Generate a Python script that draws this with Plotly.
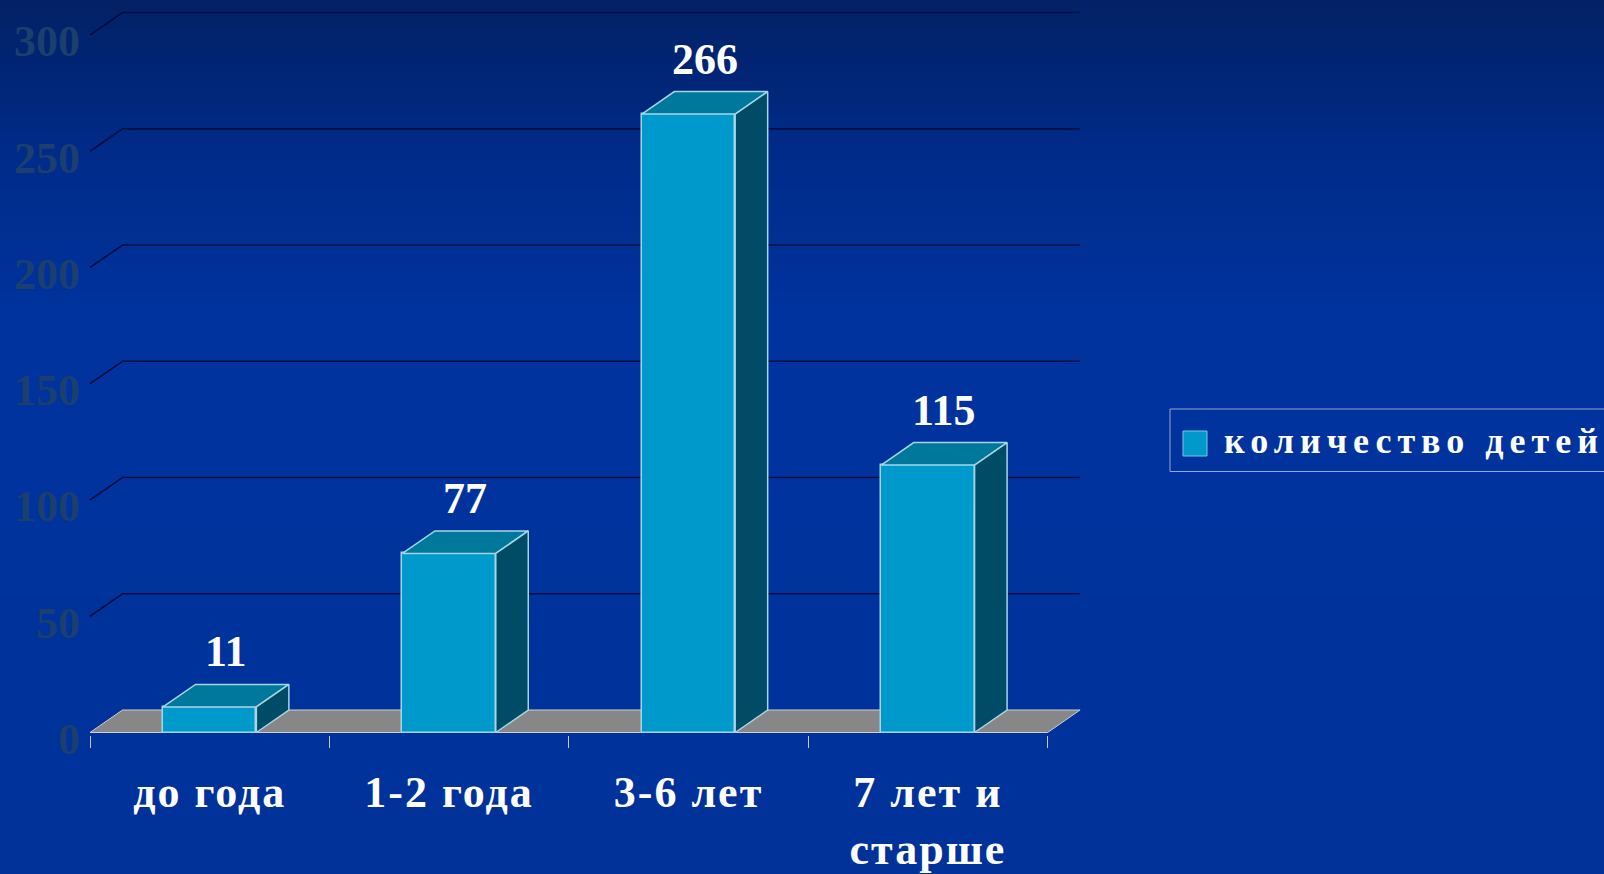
import plotly.graph_objects as go

# ---------------- data ----------------
categories = ["до года", "1-2 года", "3-6 лет", "7 лет и<br>старше"]
values = [11, 77, 266, 115]
y_ticks = [0, 50, 100, 150, 200, 250, 300]
series_name = "количество детей"

# ---------------- geometry / style ----------------
W, H = 1604, 874
X0 = 88.0          # px where plot area starts (left)
XFRONT = 90.0      # px of category 0 boundary (front)
CAT_PX = 239.4     # px per category
XR = 1100.0        # px right end of plot area
Y0 = 732.5         # px of value 0 (front plane)
YB = 734.5         # px bottom of plot area
PX_PER_UNIT = 2.325
DX_PX, DY_PX = 32.5, 22.5
BAR_FRAC = 0.39

DX = DX_PX / CAT_PX
DY = DY_PX / PX_PER_UNIT
x_lo = -(XFRONT - X0) / CAT_PX
x_hi = (XR - XFRONT) / CAT_PX
y_lo = -(YB - Y0) / PX_PER_UNIT
y_hi = Y0 / PX_PER_UNIT

FONT = "Liberation Serif, Times New Roman, serif"
FRONT_C = "#0099cc"
TOP_C = "#00789c"
SIDE_C = "#004c66"
EDGE_C = "#a6d6e6"
GRID_C = "#000c40"

n = len(categories)
centers = [i + 0.5 for i in range(n)]
hw = BAR_FRAC / 2

fig = go.Figure()

# front faces (bars)
fig.add_trace(go.Bar(
    x=centers, y=values, width=BAR_FRAC, name=series_name,
    marker=dict(color=FRONT_C, line=dict(color=EDGE_C, width=1.5)),
    showlegend=False, hoverinfo="skip",
))

# top faces and side faces
tx, ty, sx, sy = [], [], [], []
for c, v in zip(centers, values):
    tx += [c - hw, c + hw, c + hw + DX, c - hw + DX, c - hw, None]
    ty += [v, v, v + DY, v + DY, v, None]
    sx += [c + hw, c + hw, c + hw + DX, c + hw + DX, c + hw, None]
    sy += [0, v, v + DY, DY, 0, None]
fig.add_trace(go.Scatter(x=tx, y=ty, mode="lines", fill="toself", fillcolor=TOP_C,
                         line=dict(color=EDGE_C, width=1.5), showlegend=False, hoverinfo="skip"))
fig.add_trace(go.Scatter(x=sx, y=sy, mode="lines", fill="toself", fillcolor=SIDE_C,
                         line=dict(color=EDGE_C, width=1.5), showlegend=False, hoverinfo="skip"))

shapes = []
# background gradient (figure-wide)
def lerp(a, b, t):
    return tuple(round(a[i] + (b[i] - a[i]) * t) for i in range(3))
stops = [(0, (2, 32, 100)), (160, (0, 44, 138)), (320, (0, 51, 158)), (874, (0, 50, 154))]
nb = 60
for k in range(nb):
    p0 = H * k / nb
    p1 = H * (k + 1) / nb
    pm = (p0 + p1) / 2
    for j in range(len(stops) - 1):
        if stops[j][0] <= pm <= stops[j + 1][0]:
            t = (pm - stops[j][0]) / (stops[j + 1][0] - stops[j][0])
            col = lerp(stops[j][1], stops[j + 1][1], t)
            break
    shapes.append(dict(type="rect", xref="paper", yref="paper", x0=0, x1=1,
                       y0=1 - p1 / H, y1=1 - p0 / H + 0.0005, layer="below",
                       fillcolor="rgb(%d,%d,%d)" % col, line=dict(width=0)))

# floor
shapes.append(dict(type="path", xref="x", yref="y", layer="below",
                   path="M 0,0 L %f,0 L %f,%f L %f,%f Z" % (n, n + DX, DY, DX, DY),
                   fillcolor="#878787", line=dict(color="#cfcfcf", width=1)))
# gridlines (back wall + left wall diagonals)
for v in y_ticks[1:]:
    shapes.append(dict(type="path", xref="x", yref="y", layer="below",
                       path="M 0,%f L %f,%f L %f,%f" % (v, DX, v + DY, n + DX, v + DY),
                       line=dict(color=GRID_C, width=1.6)))

# custom legend
def px2x(px):
    return px / W
def px2y(py):
    return 1 - py / H
shapes.append(dict(type="rect", xref="paper", yref="paper",
                   x0=px2x(1170), x1=px2x(1615), y0=px2y(471.5), y1=px2y(409),
                   line=dict(color="#9aa6cc", width=1), fillcolor="rgba(0,0,0,0)"))
shapes.append(dict(type="rect", xref="paper", yref="paper",
                   x0=px2x(1183), x1=px2x(1207), y0=px2y(456), y1=px2y(431),
                   line=dict(color="#7fc6de", width=1), fillcolor=FRONT_C))

annotations = []
for c, v in zip(centers, values):
    annotations.append(dict(x=c + DX / 2, y=v + DY, xref="x", yref="y", text="<b>%d</b>" % v,
                            showarrow=False, yanchor="bottom", yshift=6,
                            font=dict(family=FONT, size=44, color="white")))
annotations.append(dict(x=px2x(1222), y=px2y(441), xref="paper", yref="paper",
                        xanchor="left", yanchor="middle", showarrow=False,
                        text='<span style="letter-spacing:6px"><b>%s</b></span>' % series_name,
                        font=dict(family=FONT, size=36, color="white")))

def spaced(s):
    return "<br>".join('<span style="letter-spacing:2px"><b>%s</b></span>' % part
                       for part in s.split("<br>"))

fig.update_layout(
    width=W, height=H,
    margin=dict(l=0, r=0, t=0, b=0, autoexpand=False),
    paper_bgcolor="#0033a0", plot_bgcolor="rgba(0,0,0,0)",
    shapes=shapes, annotations=annotations, showlegend=False,
    bargap=0,
    xaxis=dict(domain=[X0 / W, XR / W], range=[x_lo, x_hi], automargin=False,
               tickvals=centers, ticktext=[spaced(c) for c in categories],
               tickfont=dict(family=FONT, size=44, color="white"),
               ticks="", ticklabelstandoff=27,
               minor=dict(tickvals=list(range(n + 1)), ticks="outside", ticklen=12,
                          tickcolor="#c8c8c8", tickwidth=1),
               showgrid=False, zeroline=False, showline=False, fixedrange=True),
    yaxis=dict(domain=[1 - YB / H, 1], range=[y_lo, y_hi], automargin=False,
               tickvals=y_ticks, ticktext=["<b>%d</b>" % t for t in y_ticks],
               tickfont=dict(family=FONT, size=44, color="#1b3f6e"),
               ticks="", ticklabelstandoff=7, ticklabelshift=6,
               showgrid=False, zeroline=False, showline=False, fixedrange=True),
)

fig.write_html("out.html")
